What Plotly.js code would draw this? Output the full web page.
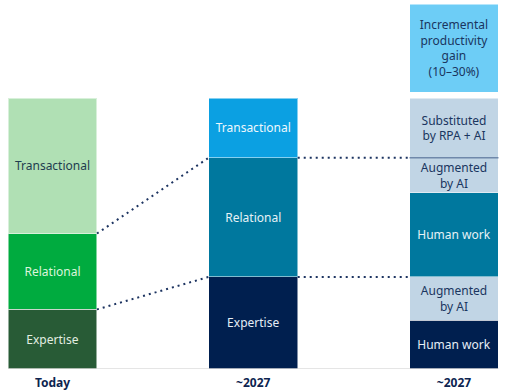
<!DOCTYPE html>
<html>
<head>
<meta charset="utf-8">
<script src="https://cdn.plot.ly/plotly-3.0.1.min.js"></script>
<style>html,body{margin:0;padding:0;background:#fff;}#chart{width:505px;height:391px;}</style>
</head>
<body>
<div id="chart"></div>
<script>
// ---- data ----
const categories = ['Today', '~2027', '~2027'];
const todayLabels = ['Expertise', 'Relational', 'Transactional'];
const todayValues = [22, 28, 50];
const futureLabels = ['Expertise', 'Relational', 'Transactional'];
const futureValues = [34, 44, 22];
const breakdownLabels = ['Human work', 'Augmented<br>by AI', 'Human work', 'Augmented<br>by AI', 'Substituted<br>by RPA + AI'];
const breakdownValues = [18, 16, 31, 13, 22];
const incrementalLabel = 'Incremental<br>productivity<br>gain<br>(10–30%)';
const incrementalValue = 32.5;

// ---- styles ----
const todayColors = ['#285b36', '#00ab3f', '#b0e0b4'];
const todayText = ['#e3eee2', '#dcf5dc', '#1f3d4f'];
const futureColors = ['#001f4f', '#00789e', '#0ba0e2'];
const futureText = ['#e6eef6', '#e6f2f6', '#eef8fd'];
const breakdownColors = ['#001f4f', '#c1d5e5', '#00789e', '#c1d5e5', '#c1d5e5'];
const breakdownText = ['#e6eef6', '#1a3560', '#e6f2f6', '#1a3560', '#1a3560'];
const incrementalColor = '#6dcdf6';
const gap = 2.2;
const barWidth = 0.443;
const font = '"Noto Sans", "Open Sans", sans-serif';
const edge = {color: 'rgba(255,255,255,0.5)', width: 1};

const traces = [];
function seg(xi, val, label, color, tcolor, base) {
  const t = {
    type: 'bar', x: [xi], y: [val], width: barWidth,
    marker: {color: color, line: edge},
    text: [label], texttemplate: '%{text}', textposition: 'inside',
    insidetextanchor: 'middle', constraintext: 'none',
    textfont: {family: font, size: 12, color: tcolor},
    hoverinfo: 'skip', showlegend: false
  };
  if (base !== undefined) t.base = [base];
  traces.push(t);
}
todayValues.forEach((v, i) => seg(0, v, todayLabels[i], todayColors[i], todayText[i]));
futureValues.forEach((v, i) => seg(1, v, futureLabels[i], futureColors[i], futureText[i]));
breakdownValues.forEach((v, i) => seg(2, breakdownValues[i], breakdownLabels[i], breakdownColors[i], breakdownText[i]));
const breakdownTotal = breakdownValues.reduce((a, b) => a + b, 0);
seg(2, incrementalValue, incrementalLabel, incrementalColor, '#1a3560', breakdownTotal + gap);

// connectors
const h = barWidth / 2;
const t1 = todayValues[0], t2 = todayValues[0] + todayValues[1];
const f1 = futureValues[0], f2 = futureValues[0] + futureValues[1];
const dotLine = {color: '#1d3461', width: 2, dash: '2px,4px'};
const shapes = [
  {type: 'line', xref: 'x', yref: 'y', x0: 0 + h, x1: 1 - h, y0: t2, y1: f2, line: dotLine},
  {type: 'line', xref: 'x', yref: 'y', x0: 0 + h, x1: 1 - h, y0: t1, y1: f1, line: dotLine},
  {type: 'line', xref: 'x', yref: 'y', x0: 1 + h, x1: 2 - h, y0: f2, y1: f2, line: dotLine},
  {type: 'line', xref: 'x', yref: 'y', x0: 1 + h, x1: 2 - h, y0: f1, y1: f1, line: dotLine},
  {type: 'line', xref: 'x', yref: 'y', x0: 2 - h, x1: 2 + h, y0: f2, y1: f2, line: {color: '#6f88aa', width: 1.5}},
  {type: 'line', xref: 'x', yref: 'y', x0: 0 - h, x1: 2 + h, y0: 0, y1: 0, line: {color: '#dcdcdc', width: 1.5}}
];

const layout = {
  width: 505, height: 391,
  margin: {l: 0, r: 0, t: 0, b: 22},
  paper_bgcolor: '#fff', plot_bgcolor: '#fff',
  barmode: 'stack', bargap: 0,
  xaxis: {
    range: [-0.2615, 2.254], tickvals: [0, 1, 2], ticktext: categories,
    showgrid: false, zeroline: false, showline: false, ticks: '',
    ticklabelstandoff: 5,
    tickfont: {family: font, size: 12, color: '#0d2450', weight: 'bold'}
  },
  yaxis: {range: [0, 136.2], visible: false, showgrid: false, zeroline: false},
  shapes: shapes,
  showlegend: false
};
Plotly.newPlot('chart', traces, layout, {displayModeBar: false, staticPlot: true});
</script>
</body>
</html>
